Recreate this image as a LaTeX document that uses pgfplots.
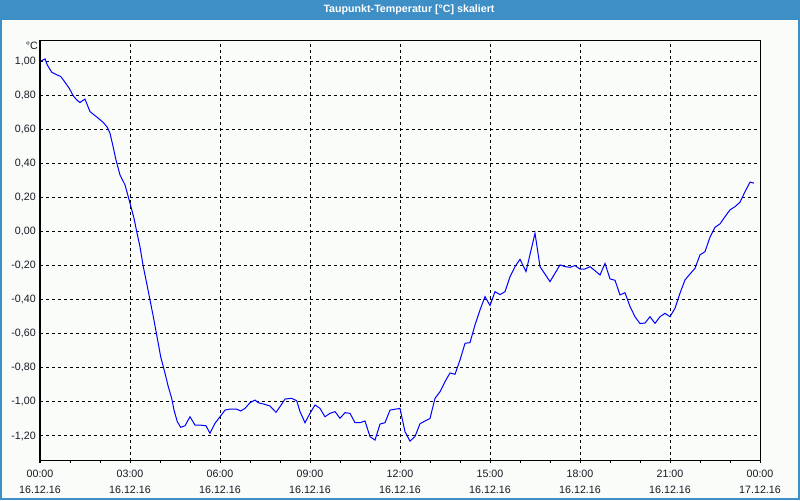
\documentclass[border=0pt]{standalone}
\usepackage{fontspec}
\setmainfont{Liberation Sans}
\usepackage{pgfplots}
\pgfplotsset{compat=1.18}
\definecolor{barblue}{RGB}{61,143,198}
\definecolor{bgc}{RGB}{250,252,250}
\definecolor{lbl}{RGB}{25,25,35}
\begin{document}
\begin{tikzpicture}
\useasboundingbox (0pt,0pt) rectangle (600pt,375pt);
\fill[bgc] (0pt,0pt) rectangle (600pt,375pt);
\fill[barblue] (0pt,360pt) rectangle (600pt,375pt);
\draw[barblue, line width=1.5pt] (0.75pt,0.75pt) rectangle (599.25pt,374.25pt);
\node[text=white, font=\bfseries\fontsize{8}{10}\selectfont, inner sep=0pt] at (306.75pt,367.5pt) {Taupunkt-Temperatur [°C] skaliert};
\begin{axis}[
  at={(30pt,29.475pt)}, anchor=south west,
  scale only axis, width=540pt, height=315pt,
  xmin=0, xmax=24, ymin=-1.345, ymax=1.12,
  clip mode=individual,
  axis line style={black, line width=0.75pt},
  xtick={0,3,6,9,12,15,18,21,24},
  minor xtick={1,2,4,5,7,8,10,11,13,14,16,17,19,20,22,23},
  xtick pos=left, ytick pos=left,
  tick align=outside, major tick length=1.5pt, minor tick length=1.5pt,
  every tick/.style={black, line width=0.75pt},
  ytick style={draw=none},
  ytick={-1.2,-1,-0.8,-0.6,-0.4,-0.2,0,0.2,0.4,0.6,0.8,1},
  yticklabels={{-1,20},{-1,00},{-0,80},{-0,60},{-0,40},{-0,20},{0,00},{0,20},{0,40},{0,60},{0,80},{1,00}},
  xticklabels={{00:00\\16.12.16},{03:00\\16.12.16},{06:00\\16.12.16},{09:00\\16.12.16},{12:00\\16.12.16},{15:00\\16.12.16},{18:00\\16.12.16},{21:00\\16.12.16},{00:00\\17.12.16}},
  xmajorgrids, ymajorgrids,
  major grid style={black, dash pattern=on 2.25pt off 2.25pt, line width=0.75pt},
  yticklabel style={inner sep=0pt, xshift=-1.5pt, text=lbl, font=\fontsize{8}{10}\selectfont},
  xticklabel style={align=center, inner sep=0pt, yshift=-5.5pt, text=lbl, font=\fontsize{8}{11.5}\selectfont},
]
\addplot[blue, line width=0.75pt] table {
x y
0.033 1.00
0.167 1.013
0.243 0.978
0.39 0.935
0.557 0.92
0.69 0.91
0.777 0.89
0.977 0.84
1.11 0.796
1.223 0.773
1.333 0.757
1.423 0.769
1.5 0.777
1.577 0.743
1.667 0.704
1.8 0.685
1.943 0.665
2.11 0.64
2.243 0.612
2.333 0.577
2.423 0.509
2.533 0.42
2.667 0.332
2.833 0.274
2.91 0.225
3.0 0.166
3.133 0.078
3.223 0.0
3.333 -0.089
3.443 -0.206
3.557 -0.304
3.667 -0.402
3.777 -0.5
3.89 -0.607
4.023 -0.735
4.167 -0.832
4.277 -0.911
4.39 -0.979
4.467 -1.048
4.577 -1.116
4.69 -1.149
4.833 -1.14
5.0 -1.087
5.167 -1.136
5.333 -1.136
5.533 -1.14
5.667 -1.184
5.833 -1.126
6.0 -1.087
6.167 -1.048
6.333 -1.042
6.557 -1.043
6.69 -1.053
6.833 -1.038
7.0 -1.005
7.167 -0.989
7.277 -1.005
7.443 -1.012
7.667 -1.024
7.867 -1.061
8.0 -1.028
8.167 -0.983
8.39 -0.979
8.557 -0.993
8.667 -1.057
8.833 -1.122
9.0 -1.067
9.167 -1.018
9.333 -1.038
9.5 -1.087
9.667 -1.067
9.833 -1.057
10.0 -1.096
10.167 -1.063
10.333 -1.067
10.5 -1.122
10.667 -1.122
10.833 -1.112
11.0 -1.204
11.167 -1.224
11.333 -1.13
11.5 -1.122
11.667 -1.048
11.833 -1.043
12.0 -1.038
12.167 -1.175
12.333 -1.23
12.5 -1.203
12.667 -1.128
12.833 -1.112
13.0 -1.097
13.167 -0.979
13.333 -0.94
13.5 -0.881
13.667 -0.83
13.833 -0.838
14.0 -0.754
14.167 -0.656
14.333 -0.652
14.5 -0.548
14.667 -0.46
14.833 -0.382
15.0 -0.434
15.167 -0.353
15.333 -0.37
15.5 -0.353
15.667 -0.265
15.833 -0.206
16.0 -0.163
16.2 -0.235
16.5 -0.01
16.667 -0.206
17.0 -0.294
17.167 -0.245
17.333 -0.196
17.5 -0.206
17.667 -0.21
17.833 -0.2
18.0 -0.22
18.167 -0.22
18.333 -0.206
18.5 -0.23
18.667 -0.255
18.833 -0.187
19.0 -0.278
19.167 -0.286
19.333 -0.372
19.5 -0.359
19.667 -0.44
19.833 -0.5
20.0 -0.54
20.167 -0.537
20.333 -0.5
20.5 -0.539
20.667 -0.5
20.833 -0.48
21.0 -0.5
21.167 -0.45
21.333 -0.362
21.5 -0.284
21.667 -0.249
21.833 -0.216
22.0 -0.137
22.167 -0.118
22.333 -0.033
22.5 0.025
22.667 0.045
22.833 0.087
23.0 0.127
23.167 0.146
23.333 0.172
23.5 0.234
23.667 0.29
23.8 0.284
};
\node[anchor=north east, inner sep=0pt, text=lbl, font=\fontsize{8}{10}\selectfont] at (rel axis cs:0,1) [xshift=-1.5pt, yshift=-1pt] {°C};
\end{axis}
\end{tikzpicture}
\end{document}
